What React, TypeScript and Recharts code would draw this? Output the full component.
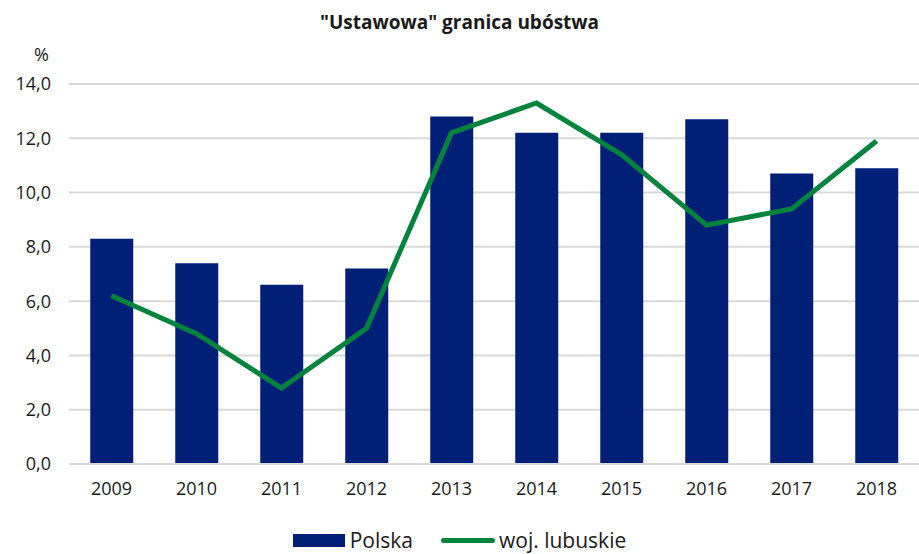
import React from "react";
import {
  ComposedChart,
  Bar,
  Line,
  XAxis,
  YAxis,
  CartesianGrid,
  Legend,
} from "recharts";

const years = ["2009", "2010", "2011", "2012", "2013", "2014", "2015", "2016", "2017", "2018"];
const polska = [8.3, 7.4, 6.6, 7.2, 12.8, 12.2, 12.2, 12.7, 10.7, 10.9];
const lubuskie = [6.2, 4.8, 2.8, 5.0, 12.2, 13.3, 11.4, 8.8, 9.4, 11.9];
const yTicks = [0, 2, 4, 6, 8, 10, 12, 14];

const data = years.map((year, i) => ({
  year,
  polska: polska[i],
  lubuskie: lubuskie[i],
}));

const FONT = "'Open Sans', 'Noto Sans', sans-serif";
const NAVY = "#001f77";
const GREEN = "#00843d";

const fmt = (v: number) => v.toFixed(1).replace(".", ",");

const LegendContent = () => (
  <div
    style={{
      display: "flex",
      justifyContent: "center",
      alignItems: "center",
      fontFamily: FONT,
      fontSize: 21,
      lineHeight: "26px",
      color: "#1a1a1a",
      height: 26,
    }}
  >
    <span style={{ display: "inline-block", width: 52, height: 13, background: NAVY, marginRight: 5 }} />
    <span style={{ marginRight: 28 }}>Polska</span>
    <span style={{ display: "inline-block", width: 54, height: 5, borderRadius: 3, background: GREEN, marginRight: 4 }} />
    <span>woj. lubuskie</span>
  </div>
);

export default function App() {
  return (
    <div style={{ position: "absolute", left: 0, top: 0, width: 919, height: 554, background: "#fff" }}>
      <div
        style={{
          position: "absolute",
          top: 9,
          left: 0,
          width: 919,
          textAlign: "center",
          fontFamily: FONT,
          fontWeight: 700,
          fontSize: 19,
          color: "#1a1a1a",
        }}
      >
        "Ustawowa" granica ubóstwa
      </div>
      <div
        style={{
          position: "absolute",
          top: 42,
          left: 34,
          fontFamily: FONT,
          fontSize: 18,
          color: "#1a1a1a",
        }}
      >
        %
      </div>
      <ComposedChart
        width={919}
        height={554}
        data={data}
        margin={{ top: 84, right: 0, left: 9, bottom: 34 }}
        barCategoryGap="25%"
      >
        <CartesianGrid vertical={false} stroke="#d9d9d9" strokeWidth={2} />
        <XAxis
          dataKey="year"
          axisLine={{ stroke: "#d9d9d9", strokeWidth: 2 }}
          tickLine={false}
          tickMargin={12}
          height={30}
          tick={{ fill: "#1a1a1a", fontSize: 18, fontFamily: FONT }}
        />
        <YAxis
          width={60}
          domain={[0, 14]}
          ticks={yTicks}
          interval={0}
          axisLine={false}
          tickLine={false}
          tickMargin={12}
          tickFormatter={fmt}
          tick={{ fill: "#1a1a1a", fontSize: 18, fontFamily: FONT }}
        />
        <Legend
          verticalAlign="bottom"
          content={<LegendContent />}
          wrapperStyle={{ top: 527, left: 0, width: 919, height: 26 }}
        />
        <Bar dataKey="polska" name="Polska" fill={NAVY} isAnimationActive={false} />
        <Line
          dataKey="lubuskie"
          name="woj. lubuskie"
          type="linear"
          stroke={GREEN}
          strokeWidth={5}
          dot={false}
          activeDot={false}
          isAnimationActive={false}
        />
      </ComposedChart>
    </div>
  );
}
